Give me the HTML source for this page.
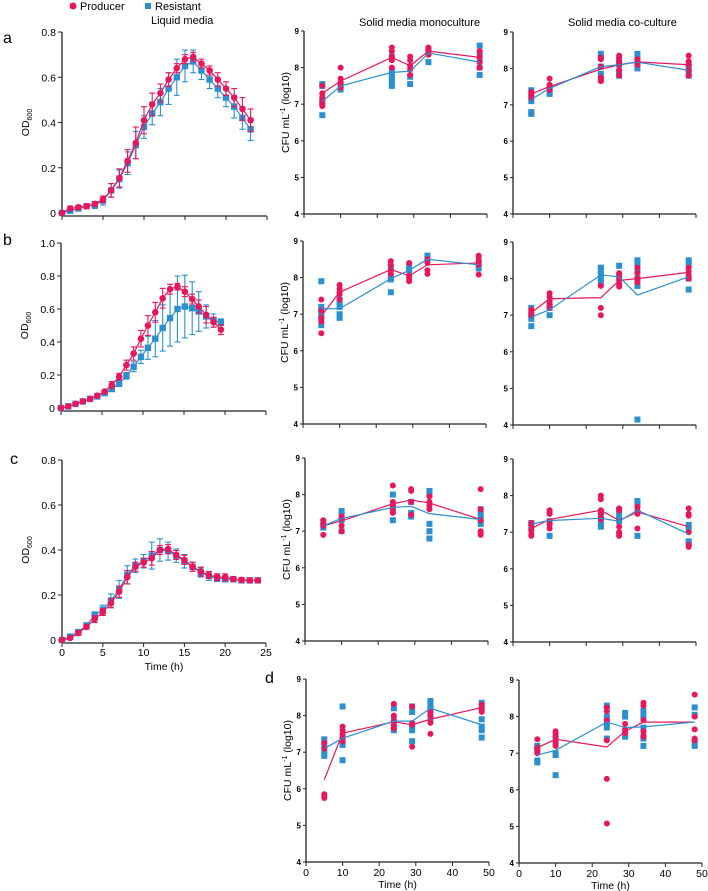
<!DOCTYPE html>
<html><head><meta charset="utf-8"><style>
body{margin:0;background:#fff}
svg{display:block;font-family:"Liberation Sans",Arial,sans-serif}
</style></head><body>
<svg id="fig" width="708" height="891" viewBox="0 0 708 891" xmlns="http://www.w3.org/2000/svg">
<g>
<circle cx="73" cy="6" r="3.5" fill="#e8175d"/>
<text x="80" y="10" font-size="11">Producer</text>
<rect x="145" y="3" width="6" height="6" fill="#2b8fd0"/>
<text x="155" y="10" font-size="11">Resistant</text>
</g>
<text x="151" y="24" font-size="11">Liquid media</text>
<text x="359" y="26" font-size="11">Solid media monoculture</text>
<text x="568" y="26" font-size="11">Solid media co-culture</text>
<text x="3" y="43" font-size="16">a</text>
<text x="3" y="245" font-size="16">b</text>
<text x="10" y="464" font-size="16">c</text>
<text x="265" y="683" font-size="16">d</text>
</svg>
<script>
const RED="#e8175d", BLUE="#2b8fd0";
// ---- Liquid media data ----
const liqTimesA=[0,1,2,3,4,5,6,7,8,9,10,11,12,13,14,15,16,17,18,19,20,21,22,23];
const liqRedA=[0,.02,.025,.03,.04,.06,.10,.155,.23,.31,.41,.48,.53,.59,.64,.68,.69,.66,.63,.59,.55,.51,.46,.41];
const liqRedErrA=[0,.01,.01,.01,.01,.015,.03,.04,.05,.07,.06,.05,.04,.03,.02,.02,.02,.02,.02,.03,.03,.04,.05,.05];
const liqBlueA=[0,.01,.02,.03,.035,.055,.10,.15,.22,.30,.38,.44,.49,.55,.60,.65,.67,.63,.59,.55,.51,.47,.42,.37];
const liqBlueErrA=[0,.01,.01,.01,.015,.02,.03,.04,.05,.06,.05,.05,.06,.07,.08,.07,.05,.04,.04,.04,.04,.05,.05,.05];
const liqTimesB=[0,0.89,1.77,2.66,3.55,4.43,5.32,6.2,7.09,7.98,8.86,9.75,10.6,11.5,12.4,13.3,14.2,15.1,16,16.8,17.7,18.6,19.5];
const liqRedB=[0,.01,.025,.04,.055,.075,.10,.14,.19,.26,.33,.42,.50,.58,.665,.72,.735,.705,.66,.615,.565,.52,.475];
const liqRedErrB=[0,.005,.005,.005,.005,.01,.01,.02,.02,.03,.04,.05,.06,.06,.06,.03,.02,.03,.03,.04,.05,.03,.03];
const liqBlueB=[0,.01,.025,.04,.055,.07,.09,.115,.15,.195,.25,.31,.365,.42,.485,.545,.60,.615,.605,.585,.555,.53,.52];
const liqBlueErrB=[0,.005,.005,.005,.005,.01,.01,.01,.02,.02,.03,.04,.07,.11,.14,.17,.2,.19,.16,.12,.07,.04,.02];
const liqTimesC=[0,1,2,3,4,5,6,7,8,9,10,11,12,13,14,15,16,17,18,19,20,21,22,23,24];
const liqRedC=[0,.009,.031,.058,.093,.124,.163,.215,.279,.326,.344,.363,.40,.404,.378,.356,.326,.304,.289,.279,.279,.271,.267,.265,.265];
const liqRedErrC=[0,.005,.01,.01,.015,.015,.02,.025,.03,.02,.02,.03,.02,.02,.02,.02,.02,.02,.015,.015,.015,.01,.01,.01,.01];
const liqBlueC=[0,.015,.035,.065,.11,.135,.175,.225,.29,.33,.35,.375,.40,.395,.375,.35,.325,.30,.285,.275,.27,.27,.265,.265,.265];
const liqBlueErrC=[0,.01,.01,.01,.015,.02,.03,.04,.04,.03,.03,.06,.05,.04,.03,.03,.02,.02,.02,.015,.01,.01,.01,.01,.01];
// ---- Solid media data ----
const cfuTimes=[5,10,24,29,34,48];
const xTickVals=[0,10,20,30,40,50];
const cfuTickVals=[4,5,6,7,8,9];
const monoA_red=[[7.5,7.3,7.2,7.1,7.0,6.95],[8.0,7.7,7.6,7.55,7.45],[8.55,8.45,8.3,8.2,8.0],[8.3,8.2,8.05,7.95,7.8],[8.55,8.5,8.45,8.4,8.35],[8.45,8.3,8.15,8.0]];
const monoA_blue=[[7.55,7.5,7.1,7.05,6.7],[7.55,7.5,7.4],[8.3,7.9,7.8,7.7,7.6,7.5],[7.75,7.55],[8.15,8.4,8.5],[8.6,8.4,8.2,8.0,7.8]];
const monoA_redLine=[7.3,7.63,8.28,8.05,8.45,8.28];
const monoA_blueLine=[7.08,7.5,7.87,7.9,8.4,8.15];
const coA_red=[[7.35,7.3,7.25,7.2],[7.72,7.55,7.5,7.45,7.4],[8.3,8.25,8.05,7.75,7.7,7.65],[8.35,8.3,8.2,8.1,7.95,7.8],[8.25,8.2,8.15,8.1],[8.35,8.2,8.1,7.95,7.8]];
const coA_blue=[[7.4,7.2,7.1,6.8,6.75],[7.45,7.35,7.3],[8.4,8.3,8.05,7.85,7.7],[8.2,8.1,7.9,7.8],[8.4,8.25,8.1,8.0],[8.1,8.0,7.9,7.8]];
const coA_redLine=[7.3,7.5,7.98,8.1,8.18,8.1];
const coA_blueLine=[7.15,7.45,8.05,8.1,8.17,7.95];
const monoB_red=[[7.4,7.1,6.9,6.85,6.8,6.48],[7.8,7.7,7.6,7.55,7.4],[8.45,8.35,8.2,8.1],[8.4,8.05,8.0,7.95,7.9],[8.5,8.4,8.2,8.1],[8.6,8.55,8.45,8.35,8.08]];
const monoB_blue=[[7.9,7.2,7.1,6.95,6.7],[7.4,7.3,7.2,7.0,6.9],[8.25,8.0,7.95,7.6],[8.35,8.2],[8.6,8.5],[8.4,8.25]];
const monoB_redLine=[6.95,7.6,8.22,8.05,8.35,8.4];
const monoB_blueLine=[7.15,7.15,7.97,8.2,8.5,8.35];
const coB_red=[[7.15,7.1,7.05,7.0],[7.6,7.5,7.4,7.3,7.2],[7.8,7.2,7.0],[8.15,8.05,7.95,7.85,7.78],[8.3,8.15,8.0,7.9],[8.3,8.2,8.1,8.0]];
const coB_blue=[[7.2,7.0,6.9,6.7],[7.3,7.2,7.0],[8.3,8.2,8.1,8.0,7.9],[8.35,8.05],[8.5,8.4,8.2,8.0,7.8,4.15],[8.5,8.4,8.0,7.7]];
const coB_redLine=[7.07,7.45,7.48,7.95,8.0,8.17];
const coB_blueLine=[6.95,7.15,8.1,8.05,7.55,8.05];
const monoC_red=[[7.3,7.2,7.15,6.9],[7.4,7.35,7.15,7.0],[8.25,7.8,7.7,7.6,7.5],[8.15,8.1,7.8,7.45],[7.95,7.8,7.7,7.6],[8.15,7.6,7.3,7.0,6.95,6.9]];
const monoC_blue=[[7.25,7.1],[7.55,7.45,7.3,7.0],[8.0,7.7,7.55,7.3],[7.8,7.5,7.4],[8.1,8.0,7.2,7.0,6.8],[7.6,7.45,7.3,7.2]];
const monoC_redLine=[7.15,7.28,7.75,7.85,7.77,7.32];
const monoC_blueLine=[7.15,7.35,7.65,7.68,7.48,7.32];
const coC_red=[[7.25,7.2,7.05,6.95,6.9],[7.6,7.55,7.5,7.3,7.2,7.1],[8.0,7.9,7.6,7.5,7.4,7.35],[7.65,7.6,7.15,7.0,6.95,6.9],[7.7,7.6,7.5,7.1],[7.65,7.5,7.45,7.0,6.65,6.6]];
const coC_blue=[[7.25,7.1],[7.3,6.9],[7.55,7.4,7.25,7.15],[7.6,7.45,7.3],[7.85,7.75,6.9],[7.2,7.1,6.75,6.7]];
const coC_redLine=[7.1,7.35,7.6,7.32,7.55,7.15];
const coC_blueLine=[7.22,7.32,7.38,7.3,7.6,6.95];
const monoD_red=[[7.25,7.1,5.85,5.8,5.75],[7.7,7.6,7.5,7.4,7.3],[8.32,8.0,7.85,7.75,7.65],[8.25,7.8,7.75,7.15],[8.1,8.0,7.8,7.5],[8.3,8.2,8.1]];
const monoD_blue=[[7.35,7.2,7.0,6.9],[8.25,7.4,7.3,7.2,6.78],[8.2,7.9,7.7,7.6],[8.25,8.1,7.7,7.6,7.3],[8.4,8.3,8.2,8.1,7.9],[8.35,8.2,7.9,7.7,7.6,7.4]];
const monoD_redLine=[6.25,7.52,7.83,7.75,7.9,8.22];
const monoD_blueLine=[7.1,7.38,7.85,7.85,8.2,7.75];
const coD_red=[[7.38,7.15,7.1,7.05,7.0],[7.6,7.55,7.45,7.3,7.2],[8.25,8.15,7.9,7.35,6.3,5.08],[7.8,7.65,7.6,7.55],[8.38,8.3,7.9,7.6,7.5,7.45],[8.6,8.0,7.65,7.4,7.35]];
const coD_blue=[[7.2,7.1,6.8,6.75],[7.45,7.3,7.0,6.95,6.4],[8.3,8.0,7.8,7.7,7.4],[8.1,8.0,7.5,7.45],[8.15,8.0,7.7,7.4,7.2],[8.25,8.05,7.3,7.2]];
const coD_redLine=[7.15,7.38,7.17,7.6,7.85,7.85];
const coD_blueLine=[6.95,7.08,7.85,7.7,7.72,7.85];

const NS="http://www.w3.org/2000/svg";
const fig=document.getElementById('fig');
function mk(tag,attrs,parent){const e=document.createElementNS(NS,tag);for(const k in attrs)e.setAttribute(k,attrs[k]);(parent||fig).appendChild(e);return e;}

function liquid(name,g){
  const grp=mk('g',{});
  
  
  const xs=t=>g.x0+(g.x1-g.x0)*t/25;
  const ys=v=>g.y0-(g.y0-g.ytop)*v/g.ymax;
  const axY=g.y0+3;
  const ya=mk('line',{x1:g.x0,y1:ys(g.ymax),x2:g.x0,y2:axY,stroke:'#222','stroke-width':1.3},grp);
  
  
  const xa=mk('line',{x1:g.x0,y1:axY,x2:g.x1,y2:axY,stroke:'#222','stroke-width':1.3},grp);
  
  
  g.yticks.forEach((v,i)=>{
    mk('line',{x1:g.x0-4,y1:ys(v),x2:g.x0,y2:ys(v),stroke:'#222','stroke-width':1},grp);
    const t=mk('text',{x:g.x0-6,y:ys(v)+4,'font-size':10.5,'text-anchor':'end'},grp);
    t.textContent=g.ylabels[i];
    
    
  });
  [0,5,10,15,20,25].forEach(v=>{
    mk('line',{x1:xs(v),y1:axY,x2:xs(v),y2:axY+4,stroke:'#222','stroke-width':1},grp);
    if(g.xlabels){
      const t=mk('text',{x:xs(v),y:axY+13,'font-size':10.5,'text-anchor':'middle'},grp);
      t.textContent=v;
      
      
    }
  });
  const lab=mk('text',{transform:`translate(${g.x0-33},${(g.y0+g.ytop)/2}) rotate(-90)`,'font-size':10.5,'text-anchor':'middle'},grp);
  lab.innerHTML='OD<tspan font-size="7" dy="3">600</tspan>';
  
  
  if(g.xlabels){
    const t=mk('text',{x:(g.x0+g.x1)/2,y:axY+27,'font-size':10.5,'text-anchor':'middle'},grp);
    t.textContent='Time (h)';
    
    
  }
  const series=[[g.blue,g.blueErr,BLUE,'resistant'],[g.red,g.redErr,RED,'producer']];
  series.forEach(([vals,errs,col,nm])=>{
    const sg=mk('g',{},grp);
    
    
    vals.forEach((v,i)=>{
      const x=xs(g.times[i]),e=errs[i];
      if(e>0){
        mk('line',{x1:x,y1:ys(v-e),x2:x,y2:ys(v+e),stroke:col,'stroke-width':1.1},sg);
        mk('line',{x1:x-3,y1:ys(v-e),x2:x+3,y2:ys(v-e),stroke:col,'stroke-width':1.1},sg);
        mk('line',{x1:x-3,y1:ys(v+e),x2:x+3,y2:ys(v+e),stroke:col,'stroke-width':1.1},sg);
      }
    });
    const pl=mk('polyline',{points:vals.map((v,i)=>xs(g.times[i])+','+ys(v)).join(' '),fill:'none',stroke:col,'stroke-width':1.2},sg);
    
    
    vals.forEach((v,i)=>{
      const x=xs(g.times[i]),y=ys(v);
      let m;
      if(nm==='producer') m=mk('circle',{cx:x,cy:y,r:3.3,fill:col},sg);
      else m=mk('rect',{x:x-3.2,y:y-3.2,width:6.4,height:6.4,fill:col},sg);
      
      
    });
  });
}

function solid(name,g){
  const grp=mk('g',{});
  
  
  const xs=t=>g.x0+(g.x1-g.x0)*t/50;
  const ys=v=>g.y4-(g.y4-g.y9)*(v-4)/5;
  const ya=mk('line',{x1:g.x0,y1:g.y9,x2:g.x0,y2:g.y4,stroke:'#222','stroke-width':1.3},grp);
  
  
  const xa=mk('line',{x1:g.x0,y1:g.y4,x2:g.x1,y2:g.y4,stroke:'#222','stroke-width':1.3},grp);
  
  
  cfuTickVals.forEach(v=>{
    mk('line',{x1:g.x0-3,y1:ys(v),x2:g.x0,y2:ys(v),stroke:'#222','stroke-width':1},grp);
    const t=mk('text',{x:g.x0-5,y:ys(v)+3,'font-size':8,'font-weight':'bold','text-anchor':'end'},grp);
    t.textContent=v;
    
    
  });
  xTickVals.forEach(v=>{
    mk('line',{x1:xs(v),y1:g.y4,x2:xs(v),y2:g.y4+4,stroke:'#222','stroke-width':1},grp);
    if(g.xlabels){
      const t=mk('text',{x:xs(v),y:g.y4+14,'font-size':10.5,'text-anchor':'middle'},grp);
      t.textContent=v;
      
      
    }
  });
  if(g.xlabels){
    const t=mk('text',{x:(g.x0+g.x1)/2,y:g.y4+26,'font-size':10.5,'text-anchor':'middle'},grp);
    t.textContent='Time (h)';
    
    
  }
  if(g.ylabel){
    const t=mk('text',{transform:`translate(${g.x0-15},${(g.y9+g.y4)/2-10}) rotate(-90)`,'font-size':10.5,'text-anchor':'middle'},grp);
    t.innerHTML='CFU mL<tspan font-size="7" dy="-4">-1</tspan><tspan dy="4"> (log10)</tspan>';
    
    
  }
  const series=[[g.blue,g.blueLine,BLUE,'resistant'],[g.red,g.redLine,RED,'producer']];
  series.forEach(([pts,line,col,nm])=>{
    const sg=mk('g',{},grp);
    
    
    pts.forEach((arr,i)=>{
      arr.forEach(v=>{
        const x=xs(cfuTimes[i]),y=ys(v);
        let m;
        if(nm==='producer') m=mk('circle',{cx:x,cy:y,r:3,fill:col},sg);
        else m=mk('rect',{x:x-3,y:y-3,width:6,height:6,fill:col},sg);
        
        
      });
    });
  });
  series.slice().reverse().forEach(([pts,line,col,nm])=>{
    const pl=mk('polyline',{points:line.map((v,i)=>xs(cfuTimes[i])+','+ys(v)).join(' '),fill:'none',stroke:col,'stroke-width':1.2},grp);
    
    
  });
}

liquid('liquid-panel-a',{x0:62,x1:267,y0:213,ytop:32,ymax:0.8,yticks:[0,.2,.4,.6,.8],ylabels:['0','0.2','0.4','0.6','0.8'],times:liqTimesA,red:liqRedA,redErr:liqRedErrA,blue:liqBlueA,blueErr:liqBlueErrA,xlabels:false});
liquid('liquid-panel-b',{x0:61,x1:266,y0:408,ytop:243,ymax:1.0,yticks:[0,.2,.4,.6,.8,1.0],ylabels:['0','0.2','0.4','0.6','0.8','1.0'],times:liqTimesB,red:liqRedB,redErr:liqRedErrB,blue:liqBlueB,blueErr:liqBlueErrB,xlabels:false});
liquid('liquid-panel-c',{x0:62,x1:266,y0:640,ytop:460,ymax:0.8,yticks:[0,.2,.4,.6,.8],ylabels:['0','0.2','0.4','0.6','0.8'],times:liqTimesC,red:liqRedC,redErr:liqRedErrC,blue:liqBlueC,blueErr:liqBlueErrC,xlabels:true});

solid('mono-panel-a',{x0:304,x1:487,y9:31,y4:214,red:monoA_red,blue:monoA_blue,redLine:monoA_redLine,blueLine:monoA_blueLine,ylabel:true,xlabels:false});
solid('co-panel-a',{x0:513,x1:696,y9:32,y4:214,red:coA_red,blue:coA_blue,redLine:coA_redLine,blueLine:coA_blueLine,ylabel:false,xlabels:false});
solid('mono-panel-b',{x0:303,x1:486,y9:241,y4:424,red:monoB_red,blue:monoB_blue,redLine:monoB_redLine,blueLine:monoB_blueLine,ylabel:true,xlabels:false});
solid('co-panel-b',{x0:513,x1:696,y9:242,y4:425,red:coB_red,blue:coB_blue,redLine:coB_redLine,blueLine:coB_blueLine,ylabel:false,xlabels:false});
solid('mono-panel-c',{x0:305,x1:488,y9:458,y4:641,red:monoC_red,blue:monoC_blue,redLine:monoC_redLine,blueLine:monoC_blueLine,ylabel:true,xlabels:false});
solid('co-panel-c',{x0:513,x1:696,y9:459,y4:642,red:coC_red,blue:coC_blue,redLine:coC_redLine,blueLine:coC_blueLine,ylabel:false,xlabels:false});
solid('mono-panel-d',{x0:306,x1:489,y9:679,y4:862,red:monoD_red,blue:monoD_blue,redLine:monoD_redLine,blueLine:monoD_blueLine,ylabel:true,xlabels:true});
solid('co-panel-d',{x0:519,x1:702,y9:680,y4:863,red:coD_red,blue:coD_blue,redLine:coD_redLine,blueLine:coD_blueLine,ylabel:false,xlabels:true});
</script>
</body></html>
